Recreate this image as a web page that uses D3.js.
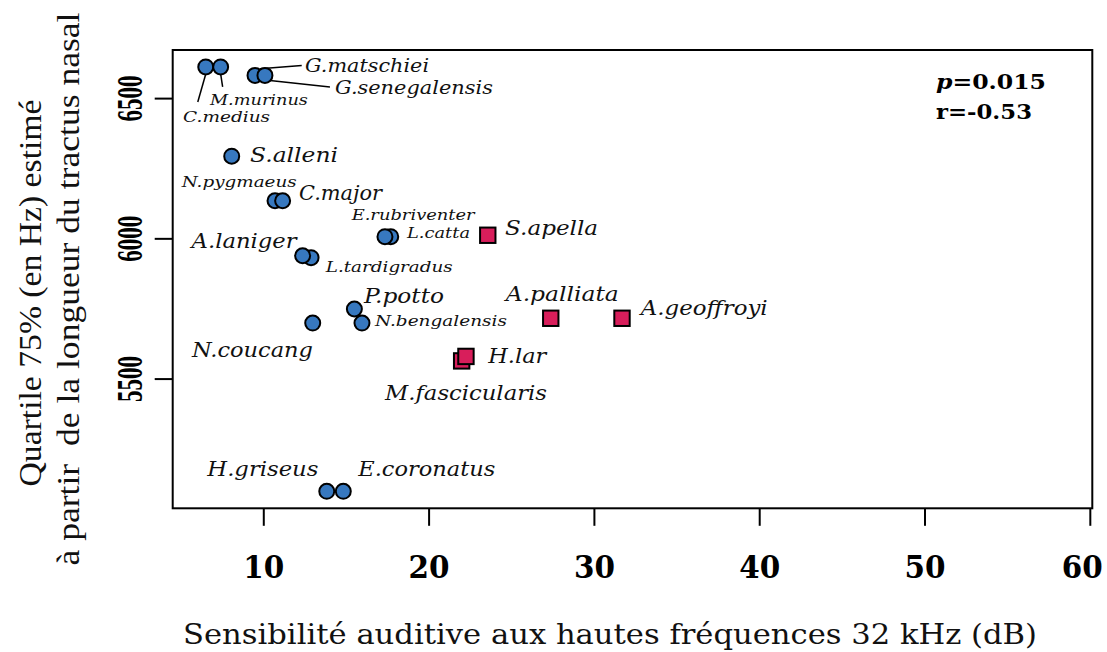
<!DOCTYPE html>
<html>
<head>
<meta charset="utf-8">
<script src="https://cdn.jsdelivr.net/npm/d3@7"></script>
<style>
  html, body { margin: 0; padding: 0; background: #fff; }
  svg { display: block; }
</style>
</head>
<body>
<svg id="chart" width="1107" height="652"></svg>
<script>
// Species, hearing sensitivity at 32 kHz (dB) and estimated 75% quartile (Hz)
const species = [
  "C.medius", "M.murinus", "G.matschiei", "G.senegalensis", "S.alleni",
  "N.pygmaeus", "C.major", "L.catta", "E.rubriventer", "S.apella",
  "L.tardigradus", "A.laniger", "P.potto", "N.bengalensis", "N.coucang",
  "A.palliata", "A.geoffroyi", "M.fascicularis", "H.lar",
  "H.griseus", "E.coronatus"
];
const sensitivity = [
  6.52, 7.42, 9.50, 10.10, 8.09,
  10.71, 11.17, 17.71, 17.36, 23.58,
  12.89, 12.38, 15.51, 15.97, 12.99,
  27.39, 31.70, 22.00, 22.26,
  13.84, 14.84
];
const quartile75 = [
  6611, 6611, 6581, 6581, 6293,
  6134, 6134, 6006, 6006, 6011,
  5931, 5938, 5748, 5698, 5698,
  5715, 5715, 5563, 5579,
  5098, 5098
];
// group: "s" = strepsirrhine (circle), "h" = haplorhine (square)
const group = [
  "s", "s", "s", "s", "s",
  "s", "s", "s", "s", "h",
  "s", "s", "s", "s", "s",
  "h", "h", "h", "h",
  "s", "s"
];
const xTicks = [10, 20, 30, 40, 50, 60];
const yTicks = [5500, 6000, 6500];
const statsText = { p: "0.015", r: "-0.53" };

// Label placement relative to each point: dx, dy (baseline), size, width, leader line
const labelLayout = {
  "C.medius":       { dx: -22.7, dy: 55,   size: 15, w: 87,  lead: [0, 7, -8, 35] },
  "M.murinus":      { dx: -10.7, dy: 38.3, size: 15, w: 98,  lead: [0, 7, 2, 20] },
  "G.matschiei":    { dx: 50,    dy: -3.3, size: 19, w: 124, lead: [5, -6.7, 46.7, -10] },
  "G.senegalensis": { dx: 70,    dy: 18.3, size: 19, w: 158, lead: [5, 5, 65, 11.7] },
  "S.alleni":       { dx: 18.3,  dy: 5.7,  size: 21, w: 88 },
  "N.pygmaeus":     { dx: -93.3, dy: -14,  size: 15, w: 115 },
  "C.major":        { dx: 16.3,  dy: -0.7, size: 21, w: 83 },
  "L.catta":        { dx: 16.3,  dy: 1.6,  size: 15, w: 63 },
  "E.rubriventer":  { dx: -33.3, dy: -16.7,size: 15, w: 123 },
  "S.apella":       { dx: 17.3,  dy: -0.3, size: 21, w: 93 },
  "L.tardigradus":  { dx: 14.7,  dy: 14,   size: 15, w: 127 },
  "A.laniger":      { dx: -111,  dy: -7.4, size: 21, w: 105 },
  "P.potto":        { dx: 9.7,   dy: -5.7, size: 21, w: 80 },
  "N.bengalensis":  { dx: 13,    dy: 3.4,  size: 15, w: 132 },
  "N.coucang":      { dx: -120.7,dy: 33.7, size: 21, w: 121 },
  "A.palliata":     { dx: -45,   dy: -17.6,size: 21, w: 113 },
  "A.geoffroyi":    { dx: 18.7,  dy: -3.3, size: 21, w: 127 },
  "M.fascicularis": { dx: -76.7, dy: 39,   size: 21, w: 162 },
  "H.lar":          { dx: 22.3,  dy: 6.6,  size: 21, w: 58 },
  "H.griseus":      { dx: -119.4,dy: -15,  size: 21, w: 111 },
  "E.coronatus":    { dx: 15,    dy: -15,  size: 21, w: 137 }
};

const colors = { s: "#3778bf", h: "#d81e5b" };

const svg = d3.select("#chart");
const plot = { left: 172.7, right: 1092.3, top: 50, bottom: 508.3 };

const x = d3.scaleLinear().domain([4.52, 60.15]).range([plot.left, plot.right]);
const y = d3.scaleLinear().domain([5037.5, 6671.5]).range([plot.bottom, plot.top]);

const data = species.map((name, i) => ({
  name, sx: sensitivity[i], qy: quartile75[i], g: group[i]
}));

// Frame
svg.append("rect")
  .attr("x", plot.left).attr("y", plot.top)
  .attr("width", plot.right - plot.left).attr("height", plot.bottom - plot.top)
  .attr("fill", "none").attr("stroke", "#000").attr("stroke-width", 2);

// X axis
const xAxis = d3.axisBottom(x).tickValues(xTicks).tickSize(17.5).tickFormat(d3.format("d"));
const gx = svg.append("g").attr("transform", `translate(0,${plot.bottom})`).call(xAxis);
gx.select(".domain").remove();
gx.selectAll(".tick line").attr("stroke", "#000").attr("stroke-width", 2);
gx.selectAll(".tick text")
  .attr("y", 70).attr("dy", 0)
  .attr("x", d => d === 60 ? -8 : 0)
  .attr("font-family", "DejaVu Serif").attr("font-weight", "bold")
  .attr("font-size", 32).attr("fill", "#000")
  .attr("textLength", 41).attr("lengthAdjust", "spacingAndGlyphs");

// Y axis
const yAxis = d3.axisLeft(y).tickValues(yTicks).tickSize(18).tickFormat(d3.format("d"));
const gy = svg.append("g").attr("transform", `translate(${plot.left},0)`).call(yAxis);
gy.select(".domain").remove();
gy.selectAll(".tick line").attr("stroke", "#000").attr("stroke-width", 2);
gy.selectAll(".tick text").remove();
gy.selectAll(".tick").append("text")
  .attr("transform", "translate(-31,0) scale(1.4,1) rotate(-90)")
  .attr("text-anchor", "middle")
  .attr("font-family", "Liberation Serif, serif").attr("font-weight", "bold")
  .attr("font-size", 25).attr("fill", "#000")
  .attr("textLength", 46).attr("lengthAdjust", "spacingAndGlyphs")
  .text(d => d);

// Leader lines
const gLead = svg.append("g");
data.forEach(d => {
  const L = labelLayout[d.name];
  if (!L.lead) return;
  const px = x(d.sx), py = y(d.qy);
  gLead.append("line")
    .attr("x1", px + L.lead[0]).attr("y1", py + L.lead[1])
    .attr("x2", px + L.lead[2]).attr("y2", py + L.lead[3])
    .attr("stroke", "#000").attr("stroke-width", 1.5);
});

// Points
const gPts = svg.append("g");
data.forEach(d => {
  const px = x(d.sx), py = y(d.qy);
  if (d.g === "s") {
    gPts.append("circle").attr("cx", px).attr("cy", py).attr("r", 7.5)
      .attr("fill", colors.s).attr("stroke", "#000").attr("stroke-width", 2);
  } else {
    gPts.append("rect").attr("x", px - 7.7).attr("y", py - 7.7)
      .attr("width", 15.4).attr("height", 15.4)
      .attr("fill", colors.h).attr("stroke", "#000").attr("stroke-width", 2);
  }
});

// Species labels
const gLab = svg.append("g");
data.forEach(d => {
  const L = labelLayout[d.name];
  gLab.append("text")
    .attr("x", x(d.sx) + L.dx).attr("y", y(d.qy) + L.dy)
    .attr("font-family", "DejaVu Serif").attr("font-style", "italic")
    .attr("font-size", L.size).attr("fill", "#111")
    .attr("textLength", L.w).attr("lengthAdjust", "spacingAndGlyphs")
    .text(d.name);
});

// Correlation statistics
const st1 = svg.append("text").attr("x", 936).attr("y", 89)
  .attr("font-family", "DejaVu Serif").attr("font-weight", "bold").attr("font-size", 21)
  .attr("textLength", 110).attr("lengthAdjust", "spacingAndGlyphs");
st1.append("tspan").attr("font-style", "italic").text("p");
st1.append("tspan").text("=" + statsText.p);
svg.append("text").attr("x", 936).attr("y", 119)
  .attr("font-family", "DejaVu Serif").attr("font-weight", "bold").attr("font-size", 21)
  .attr("textLength", 96).attr("lengthAdjust", "spacingAndGlyphs")
  .text("r=" + statsText.r);

// Axis titles
svg.append("text")
  .attr("x", 610).attr("y", 644).attr("text-anchor", "middle")
  .attr("font-family", "DejaVu Serif").attr("font-size", 28).attr("fill", "#111")
  .attr("textLength", 854).attr("lengthAdjust", "spacingAndGlyphs")
  .text("Sensibilité auditive aux hautes fréquences 32 kHz (dB)");

svg.append("text")
  .attr("transform", "translate(41,293) rotate(-90)").attr("text-anchor", "middle")
  .attr("font-family", "Liberation Serif, serif").attr("font-size", 31).attr("fill", "#111")
  .attr("textLength", 387).attr("lengthAdjust", "spacingAndGlyphs")
  .text("Quartile 75% (en Hz) estimé");
svg.append("text")
  .attr("transform", "translate(79,289) rotate(-90)").attr("text-anchor", "middle")
  .attr("font-family", "Liberation Serif, serif").attr("font-size", 31).attr("fill", "#111")
  .attr("textLength", 553).attr("lengthAdjust", "spacingAndGlyphs")
  .style("white-space", "pre")
  .text("à partir  de la longueur du tractus nasal");
</script>
</body>
</html>
